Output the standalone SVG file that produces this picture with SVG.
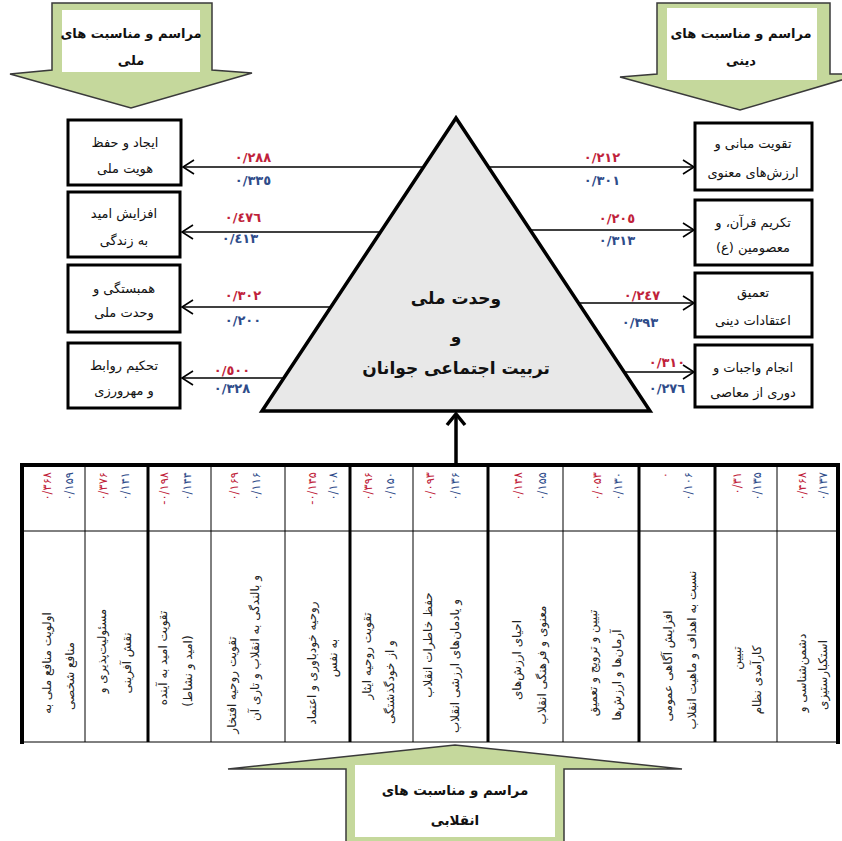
<svg xmlns="http://www.w3.org/2000/svg" width="842" height="841" viewBox="0 0 842 841">
<style>
text{font-family:"DejaVu Sans",sans-serif;}
.fa{direction:rtl;}
.bx{fill:#fff;stroke:#000;stroke-width:3;}
.bt{font-size:13px;text-anchor:middle;fill:#111;}
.red{fill:#c0223a;font-weight:bold;font-size:13px;text-anchor:middle;}
.blu{fill:#2f4c8a;font-weight:bold;font-size:13px;text-anchor:middle;}
.ln{stroke:#000;stroke-width:1.5;fill:none;}
.ga{fill:#c5d89c;stroke:#3a3a3a;stroke-width:1.5;}
.gw{fill:#fff;stroke:none;}
.gt{font-size:13px;font-weight:bold;text-anchor:middle;fill:#111;}
.tt{font-size:17px;font-weight:bold;text-anchor:middle;fill:#111;}
.cb{font-size:12px;text-anchor:middle;fill:#222;}
.hr{font-size:11.5px;text-anchor:end;fill:#c0223a;}
.hb{font-size:11.5px;text-anchor:end;fill:#2f4c8a;}
.thin{stroke:#000;stroke-width:1;}
.thick{stroke:#000;stroke-width:3;}
</style>
<defs>
<marker id="ah" markerUnits="userSpaceOnUse" markerWidth="14" markerHeight="18" refX="12" refY="9" orient="auto">
<path d="M1,2 L12,9 L1,16" fill="none" stroke="#000" stroke-width="1.6"/>
</marker>
</defs>
<rect width="842" height="841" fill="#fff"/>

<g id="arrow-national">
<polygon class="ga" points="52,3 212,3 212,70 252,73 131,108 10,74 52,70"/>
<rect class="gw" x="62" y="10" width="138" height="62"/>
<text class="gt fa" x="131" y="38">مراسم و مناسبت های</text>
<text class="gt fa" x="131" y="65">ملی</text>
</g>
<g id="arrow-religious">
<polygon class="ga" points="657,3 830,3 830,74 862,74 740,110 620,77 657,74"/>
<rect class="gw" x="667" y="8" width="150" height="72"/>
<text class="gt fa" x="741" y="38">مراسم و مناسبت های</text>
<text class="gt fa" x="741" y="65">دینی</text>
</g>

<g id="connectors">
<line class="ln" x1="424" y1="167" x2="183" y2="167" marker-end="url(#ah)"/>
<line class="ln" x1="381" y1="232" x2="182" y2="232" marker-end="url(#ah)"/>
<line class="ln" x1="331" y1="307" x2="182" y2="307" marker-end="url(#ah)"/>
<line class="ln" x1="284" y1="378" x2="182" y2="378" marker-end="url(#ah)"/>
<line class="ln" x1="488" y1="167" x2="694" y2="167" marker-end="url(#ah)"/>
<line class="ln" x1="530" y1="230" x2="694" y2="230" marker-end="url(#ah)"/>
<line class="ln" x1="578" y1="303" x2="694" y2="303" marker-end="url(#ah)"/>
<line class="ln" x1="623" y1="372" x2="694" y2="372" marker-end="url(#ah)"/>
<line x1="456" y1="463" x2="456" y2="416" stroke="#000" stroke-width="3.5"/>
<path d="M447,425 L456,414 L465,425" fill="none" stroke="#000" stroke-width="3.5"/>
</g>

<g id="labels">
<text class="red" x="253" y="162">٠/٢٨٨</text>
<text class="blu" x="253" y="185">٠/٣٣٥</text>
<text class="red" x="243" y="222">٠/٤٧٦</text>
<text class="blu" x="240" y="243">٠/٤١٣</text>
<text class="red" x="243" y="300">٠/٣٠٢</text>
<text class="blu" x="243" y="325">٠/٢٠٠</text>
<text class="red" x="232" y="375">٠/٥٠٠</text>
<text class="blu" x="232" y="393">٠/٣٢٨</text>
<text class="red" x="602" y="162">٠/٢١٢</text>
<text class="blu" x="602" y="185">٠/٣٠١</text>
<text class="red" x="617" y="223">٠/٢٠٥</text>
<text class="blu" x="617" y="245">٠/٣١٣</text>
<text class="red" x="642" y="300">٠/٢٤٧</text>
<text class="blu" x="640" y="327">٠/٣٩٣</text>
<text class="red" x="667" y="367">٠/٣١٠</text>
<text class="blu" x="667" y="393">٠/٢٧٦</text>
</g>

<g id="core">
<polygon points="456,118 262,411 650,411" fill="#e8e8e8" stroke="#000" stroke-width="3.5" stroke-linejoin="miter"/>
<text class="tt fa" x="456" y="304">وحدت ملی</text>
<text class="tt fa" x="456" y="342">و</text>
<text class="tt fa" x="456" y="374">تربیت اجتماعی جوانان</text>
</g>

<g id="n-identity"><rect class="bx" x="68" y="120" width="113" height="65"/>
<text class="bt fa" x="125" y="147">ایجاد و حفظ</text><text class="bt fa" x="125" y="173">هویت ملی</text></g>
<g id="n-hope"><rect class="bx" x="68" y="192" width="112" height="65"/>
<text class="bt fa" x="124" y="218">افزایش امید</text><text class="bt fa" x="124" y="245">به زندگی</text></g>
<g id="n-solidarity"><rect class="bx" x="68" y="265" width="112" height="67"/>
<text class="bt fa" x="124" y="293">همبستگی و</text><text class="bt fa" x="124" y="317">وحدت ملی</text></g>
<g id="n-relations"><rect class="bx" x="68" y="343" width="112" height="65"/>
<text class="bt fa" x="124" y="370">تحکیم روابط</text><text class="bt fa" x="124" y="395">و مهرورزی</text></g>

<g id="n-values"><rect class="bx" x="695" y="123" width="117" height="67"/>
<text class="bt fa" x="753" y="148">تقویت مبانی و</text><text class="bt fa" x="753" y="177">ارزش‌های معنوی</text></g>
<g id="n-quran"><rect class="bx" x="695" y="200" width="117" height="65"/>
<text class="bt fa" x="753" y="227">تکریم قرآن، و</text><text class="bt fa" x="753" y="252">معصومین (ع)</text></g>
<g id="n-beliefs"><rect class="bx" x="695" y="273" width="117" height="64"/>
<text class="bt fa" x="753" y="297">تعمیق</text><text class="bt fa" x="753" y="325">اعتقادات دینی</text></g>
<g id="n-duties"><rect class="bx" x="695" y="345" width="117" height="62"/>
<text class="bt fa" x="753" y="372">انجام واجبات و</text><text class="bt fa" x="753" y="397">دوری از معاصی</text></g>

<g id="table">
<rect x="22" y="465" width="816" height="277" fill="#fff" stroke="none"/>
<line class="thin" x1="22" y1="531" x2="838" y2="531"/>
<line class="thin" x1="22" y1="742" x2="838" y2="742"/>
<line class="thin" x1="85" y1="465" x2="85" y2="742"/>
<line class="thick" x1="148" y1="465" x2="148" y2="742"/>
<line class="thin" x1="211" y1="465" x2="211" y2="742"/>
<line class="thin" x1="285" y1="465" x2="285" y2="742"/>
<line class="thick" x1="350" y1="465" x2="350" y2="742"/>
<line class="thin" x1="413" y1="465" x2="413" y2="742"/>
<line class="thick" x1="488" y1="465" x2="488" y2="742"/>
<line class="thin" x1="563" y1="465" x2="563" y2="742"/>
<line class="thick" x1="639" y1="465" x2="639" y2="742"/>
<line class="thick" x1="715" y1="465" x2="715" y2="742"/>
<line class="thin" x1="777" y1="465" x2="777" y2="742"/>
<line x1="20" y1="465" x2="840" y2="465" stroke="#000" stroke-width="4"/>
<line x1="22" y1="463" x2="22" y2="744" stroke="#000" stroke-width="4"/>
<line x1="838" y1="463" x2="838" y2="744" stroke="#000" stroke-width="4"/>
</g>

<g id="c1">
<text class="hr" transform="translate(51,472) rotate(-90)">۰/۳۶۸</text>
<text class="hb" transform="translate(73,472) rotate(-90)">۰/۱۵۹</text>
<text class="cb fa" transform="translate(51,663) rotate(-90)">اولویت منافع ملی به</text>
<text class="cb fa" transform="translate(74,676) rotate(-90)">منافع شخصی</text>
</g>
<g id="c2">
<text class="hr" transform="translate(107,472) rotate(-90)">۰/۳۷۶</text>
<text class="hb" transform="translate(129,472) rotate(-90)">۰/۱۴۱</text>
<text class="cb fa" transform="translate(106,651) rotate(-90)">مسئولیت‌پذیری و</text>
<text class="cb fa" transform="translate(131,663) rotate(-90)">نقش آفرینی</text>
</g>
<g id="c3">
<text class="hr" transform="translate(168,472) rotate(-90)">-۰/۱۹۸</text>
<text class="hb" transform="translate(191,472) rotate(-90)">۰/۱۴۴</text>
<text class="cb fa" transform="translate(167,658) rotate(-90)">تقویت امید به آینده</text>
<text class="cb fa" transform="translate(192,671) rotate(-90)">(امید و نشاط)</text>
</g>
<g id="c4">
<text class="hr" transform="translate(238,472) rotate(-90)">۰/۱۶۹</text>
<text class="hb" transform="translate(260,472) rotate(-90)">۰/۱۱۶</text>
<text class="cb fa" transform="translate(236,685) rotate(-90)">تقویت روحیه افتخار</text>
<text class="cb fa" transform="translate(259,648) rotate(-90)">و بالندگی به انقلاب و تاری آن</text>
</g>
<g id="c5">
<text class="hr" transform="translate(316,472) rotate(-90)">-۰/۱۴۵</text>
<text class="hb" transform="translate(337,472) rotate(-90)">۰/۱۰۸</text>
<text class="cb fa" transform="translate(316,663) rotate(-90)">روحیه خودباوری و اعتماد</text>
<text class="cb fa" transform="translate(337,658) rotate(-90)">به نفس</text>
</g>
<g id="c6">
<text class="hr" transform="translate(372,472) rotate(-90)">۰/۳۹۶</text>
<text class="hb" transform="translate(394,472) rotate(-90)">۰/۱۵۰</text>
<text class="cb fa" transform="translate(371,656) rotate(-90)">تقویت روحیه ایثار</text>
<text class="cb fa" transform="translate(394,682) rotate(-90)">و از خودگذشتگی</text>
</g>
<g id="c7">
<text class="hr" transform="translate(434,472) rotate(-90)">۰/۰۹۳</text>
<text class="hb" transform="translate(459,472) rotate(-90)">۰/۱۳۶</text>
<text class="cb fa" transform="translate(432,645) rotate(-90)">حفظ خاطرات انقلاب</text>
<text class="cb fa" transform="translate(459,666) rotate(-90)">و یادمان‌های ارزشی انقلاب</text>
</g>
<g id="c8">
<text class="hr" transform="translate(522,472) rotate(-90)">۰/۱۴۸</text>
<text class="hb" transform="translate(546,472) rotate(-90)">۰/۱۵۵</text>
<text class="cb fa" transform="translate(521,660) rotate(-90)">احیای ارزش‌های</text>
<text class="cb fa" transform="translate(546,665) rotate(-90)">معنوی و فرهنگی انقلاب</text>
</g>
<g id="c9">
<text class="hr" transform="translate(601,472) rotate(-90)">۰/۰۵۳</text>
<text class="hb" transform="translate(622,472) rotate(-90)">۰/۱۳۰</text>
<text class="cb fa" transform="translate(597,663) rotate(-90)">تبیین و ترویج و تعمیق</text>
<text class="cb fa" transform="translate(621,675) rotate(-90)">آرمان‌ها و ارزش‌ها</text>
</g>
<g id="c10">
<text class="hr" transform="translate(669,472) rotate(-90)">۰</text>
<text class="hb" transform="translate(692,472) rotate(-90)">۰/۱۰۶</text>
<text class="cb fa" transform="translate(672,666) rotate(-90)">افزایش آگاهی عمومی</text>
<text class="cb fa" transform="translate(696,650) rotate(-90)">نسبت به اهداف و ماهیت انقلاب</text>
</g>
<g id="c11">
<text class="hr" transform="translate(741,472) rotate(-90)">۰/۳۱</text>
<text class="hb" transform="translate(761,472) rotate(-90)">۰/۱۳۵</text>
<text class="cb fa" transform="translate(741,658) rotate(-90)">تبیین</text>
<text class="cb fa" transform="translate(761,680) rotate(-90)">کارآمدی نظام</text>
</g>
<g id="c12">
<text class="hr" transform="translate(806,472) rotate(-90)">۰/۴۶۸</text>
<text class="hb" transform="translate(827,472) rotate(-90)">۰/۱۳۷</text>
<text class="cb fa" transform="translate(806,673) rotate(-90)">دشمن‌شناسی و</text>
<text class="cb fa" transform="translate(827,675) rotate(-90)">استکبارستیزی</text>
</g>

<g id="arrow-revolutionary">
<polygon class="ga" points="346,850 346,769 228,769 455,745 682,769 564,769 564,850"/>
<rect class="gw" x="355" y="765" width="200" height="72"/>
<text class="gt fa" x="455" y="795" style="font-size:13.5px">مراسم و مناسبت های</text>
<text class="gt fa" x="455" y="825" style="font-size:13.5px">انقلابی</text>
</g>
</svg>
